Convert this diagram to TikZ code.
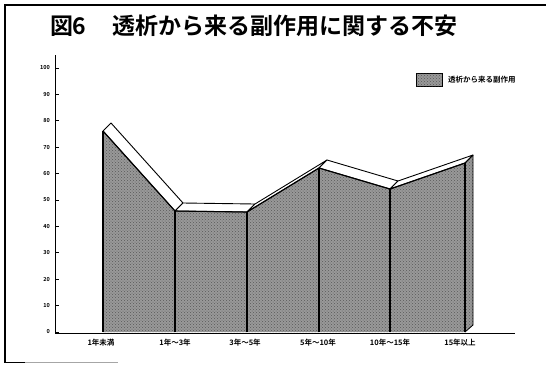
\documentclass[tikz,border=0pt]{standalone}
\usepackage{fontspec}
\newfontfamily\cjk{Noto Sans CJK JP}[BoldFont={Noto Sans CJK JP Bold}]
\usetikzlibrary{patterns,calc}
\tikzset{
  chartfill/.style={fill=black!40, postaction={pattern=crosshatch dots, pattern color=black!65}},
  edge/.style={line width=1.1pt, line join=round},
  band/.style={fill=white, draw=black, line width=0.9pt, line join=round},
  ticklbl/.style={anchor=east, inner sep=0pt, font=\cjk\bfseries\fontsize{5.5}{6}\selectfont},
  catlbl/.style={inner sep=0pt, font=\cjk\bfseries\fontsize{7.5}{8}\selectfont},
  titlefont/.style={inner sep=0pt, font=\cjk\bfseries\fontsize{23}{25}\selectfont},
  framel/.style={line width=1.5pt, black},
}
\begin{document}
\begin{tikzpicture}[x=1pt,y=-1pt]
\fill[white] (0,0) rectangle (551,365);
\useasboundingbox (0,0) rectangle (551,365);
% frame
\coordinate (fr1) at (5,362);
\coordinate (fr2) at (5,5);
\coordinate (fr3) at (545,5);
\draw[framel, line cap=rect] (fr1) -- (fr2) -- (fr3);
\draw[line width=1pt] (5,362) -- (25,362);
\draw[line width=1pt, black!35] (25,362) -- (118,362);
% title
\node[titlefont, anchor=west] (tfig) at (50,26) {図};
\node[titlefont, anchor=west] (tnum) at (72,26) {6};
\node[titlefont, anchor=west] (title) at (112,26) {透析から来る副作用に関する不安};
% data points (front) and base points
\coordinate (f1) at (103,131);
\coordinate (f2) at (175,211);
\coordinate (f3) at (247,212);
\coordinate (f4) at (319,168);
\coordinate (f5) at (390,189);
\coordinate (f6) at (465,163);
\foreach \i in {1,...,6} {
  \coordinate (b\i) at ($(f\i)+(8,-8)$);
}
\foreach \i/\x in {1/103,2/175,3/247,4/319,5/390,6/465} {
  \coordinate (g\i) at (\x,332);
}
% front area
\fill[chartfill] (g1) -- (f1) -- (f2) -- (f3) -- (f4) -- (f5) -- (f6) -- (g6) -- cycle;
% right side face
\coordinate (s1) at (473,325);
\fill[chartfill] (f6) -- (b6) -- (s1) -- (g6) -- cycle;
\draw[line width=0.8pt] (b6) -- (s1) -- (g6);
% top bands
\foreach \i [evaluate=\i as \j using int(\i+1)] in {1,...,5} {
  \draw[band] (f\i) -- (f\j) -- (b\j) -- (b\i) -- cycle;
}
\draw[band] (f6) -- (b6);
% front edges
\draw[edge] (f1) -- (f2) -- (f3) -- (f4) -- (f5) -- (f6);
\foreach \i in {1,...,6} {
  \draw[edge] (f\i) -- (g\i);
}
% axes
\coordinate (ytop) at (55,55);
\coordinate (orig) at (55,333);
\coordinate (xend) at (515,333);
\draw[line width=1pt] (ytop) -- (orig) -- (xend);
\foreach \v in {0,10,...,100} {
  \draw[line width=0.7pt] (55,332-2.64*\v) -- (59,332-2.64*\v);
  \node[ticklbl] (t\v) at (50,332-2.64*\v) {\v};
}
% categories
\node[catlbl] (c1) at (101,343) {1年未満};
\node[catlbl] (c2) at (175,343) {1年～3年};
\node[catlbl] (c3) at (245,343) {3年～5年};
\node[catlbl] (c4) at (318,343) {5年～10年};
\node[catlbl] (c5) at (390,343) {10年～15年};
\node[catlbl] (c6) at (460,343) {15年以上};
% legend
\node[draw, line width=0.9pt, chartfill, minimum width=26pt, minimum height=13pt, inner sep=0pt] (legbox) at (429,80) {};
\node[catlbl, anchor=west] (legtxt) at (448,80) {透析から来る副作用};
\end{tikzpicture}
\end{document}
